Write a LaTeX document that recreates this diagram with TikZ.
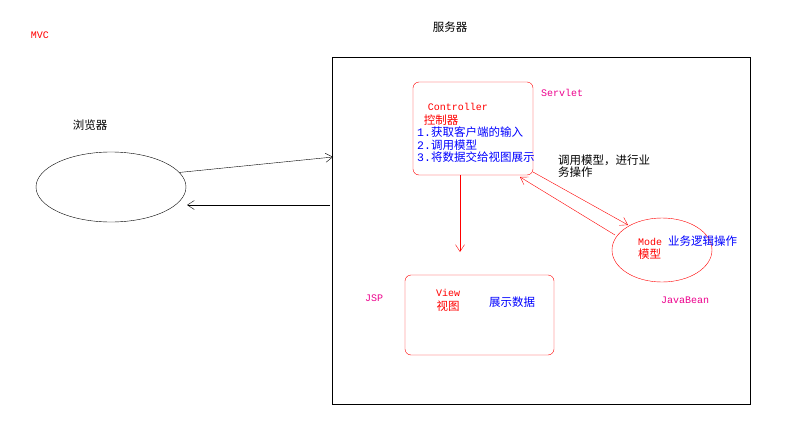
\documentclass[tikz,border=0pt]{standalone}
\usepackage{fontspec}
\setmainfont{Liberation Mono}
\newfontfamily\cjk{Noto Sans CJK SC}
\usetikzlibrary{arrows.meta,shapes.geometric}
\begin{document}
\begin{tikzpicture}[x=1pt,y=-1pt,
  lbl/.style={inner sep=0pt,font=\fontsize{10}{11}\selectfont},
  ck/.style={inner sep=0pt,font=\cjk\fontsize{11.5}{12}\selectfont},
  arr/.style={-{Straight Barb[length=7pt,width=9pt]}},
  rbox/.style={draw=red,rounded corners=6pt}]
\useasboundingbox (0,0) rectangle (788,439);
\node[lbl,text=red] (mvc) at (40,35) {MVC};
\node[ck] (srv) at (450,27) {服务器};
\node[draw,minimum width=418pt,minimum height=347pt,inner sep=0pt] (server) at (541,230.5) {};
\node[ck] (br) at (90,125) {浏览器};
\node[draw,ellipse,minimum width=150pt,minimum height=70pt,inner sep=0pt] (bro) at (111,187) {};
\coordinate (s1) at (333,157);
\coordinate (s2) at (330,205);
\coordinate (e2) at (187,205);
\draw[arr] (bro.12) -- (s1);
\draw[arr] (s2) -- (e2);
\node[rbox,minimum width=120pt,minimum height=93pt,inner sep=0pt] (ctl) at (473,128.5) {};
\node[lbl,text=magenta] (servlet) at (562,93) {Servlet};
\node[lbl,text=red] (c1) at (458,107) {Controller};
\node[ck,text=red] (c2) at (441,120) {控制器};
\node[ck,text=blue,anchor=west] (c3) at (417,132) {\fontspec{Liberation Mono}1.\cjk 获取客户端的输入};
\node[ck,text=blue,anchor=west] (c4) at (417,145) {\fontspec{Liberation Mono}2.\cjk 调用模型};
\node[ck,text=blue,anchor=west] (c5) at (417,157) {\fontspec{Liberation Mono}3.\cjk 将数据交给视图展示};
\coordinate (vt) at (460,252);
\draw[arr,red] (460,175) -- (vt);
\node[rbox,minimum width=149pt,minimum height=80pt,inner sep=0pt] (view) at (479.5,315) {};
\node[lbl,text=red] (v1) at (448,293) {View};
\node[ck,text=red] (v2) at (448,306) {视图};
\node[ck,text=blue] (v3) at (512,302) {展示数据};
\node[lbl,text=magenta] (jsp) at (374,298) {JSP};
\node[draw=red,ellipse,minimum width=100pt,minimum height=64pt,inner sep=0pt] (model) at (662,250) {};
\node[lbl,text=red,anchor=west] (m1) at (638,242) {Mode};
\node[ck,text=red,anchor=west] (m2) at (638,254) {模型};
\node[ck,text=blue,anchor=west] (m3) at (668,241) {业务逻辑操作};
\node[lbl,text=magenta] (jb) at (685,300) {JavaBean};
\coordinate (a1) at (533,172);
\coordinate (a2) at (628,225);
\coordinate (b1) at (615,235);
\coordinate (b2) at (520,177);
\draw[arr,red] (a1) -- (a2);
\draw[arr,red] (b1) -- (b2);
\node[ck,anchor=west] (t1) at (558,160) {调用模型，进行业};
\node[ck,anchor=west] (t2) at (558,172) {务操作};
\end{tikzpicture}
\end{document}
